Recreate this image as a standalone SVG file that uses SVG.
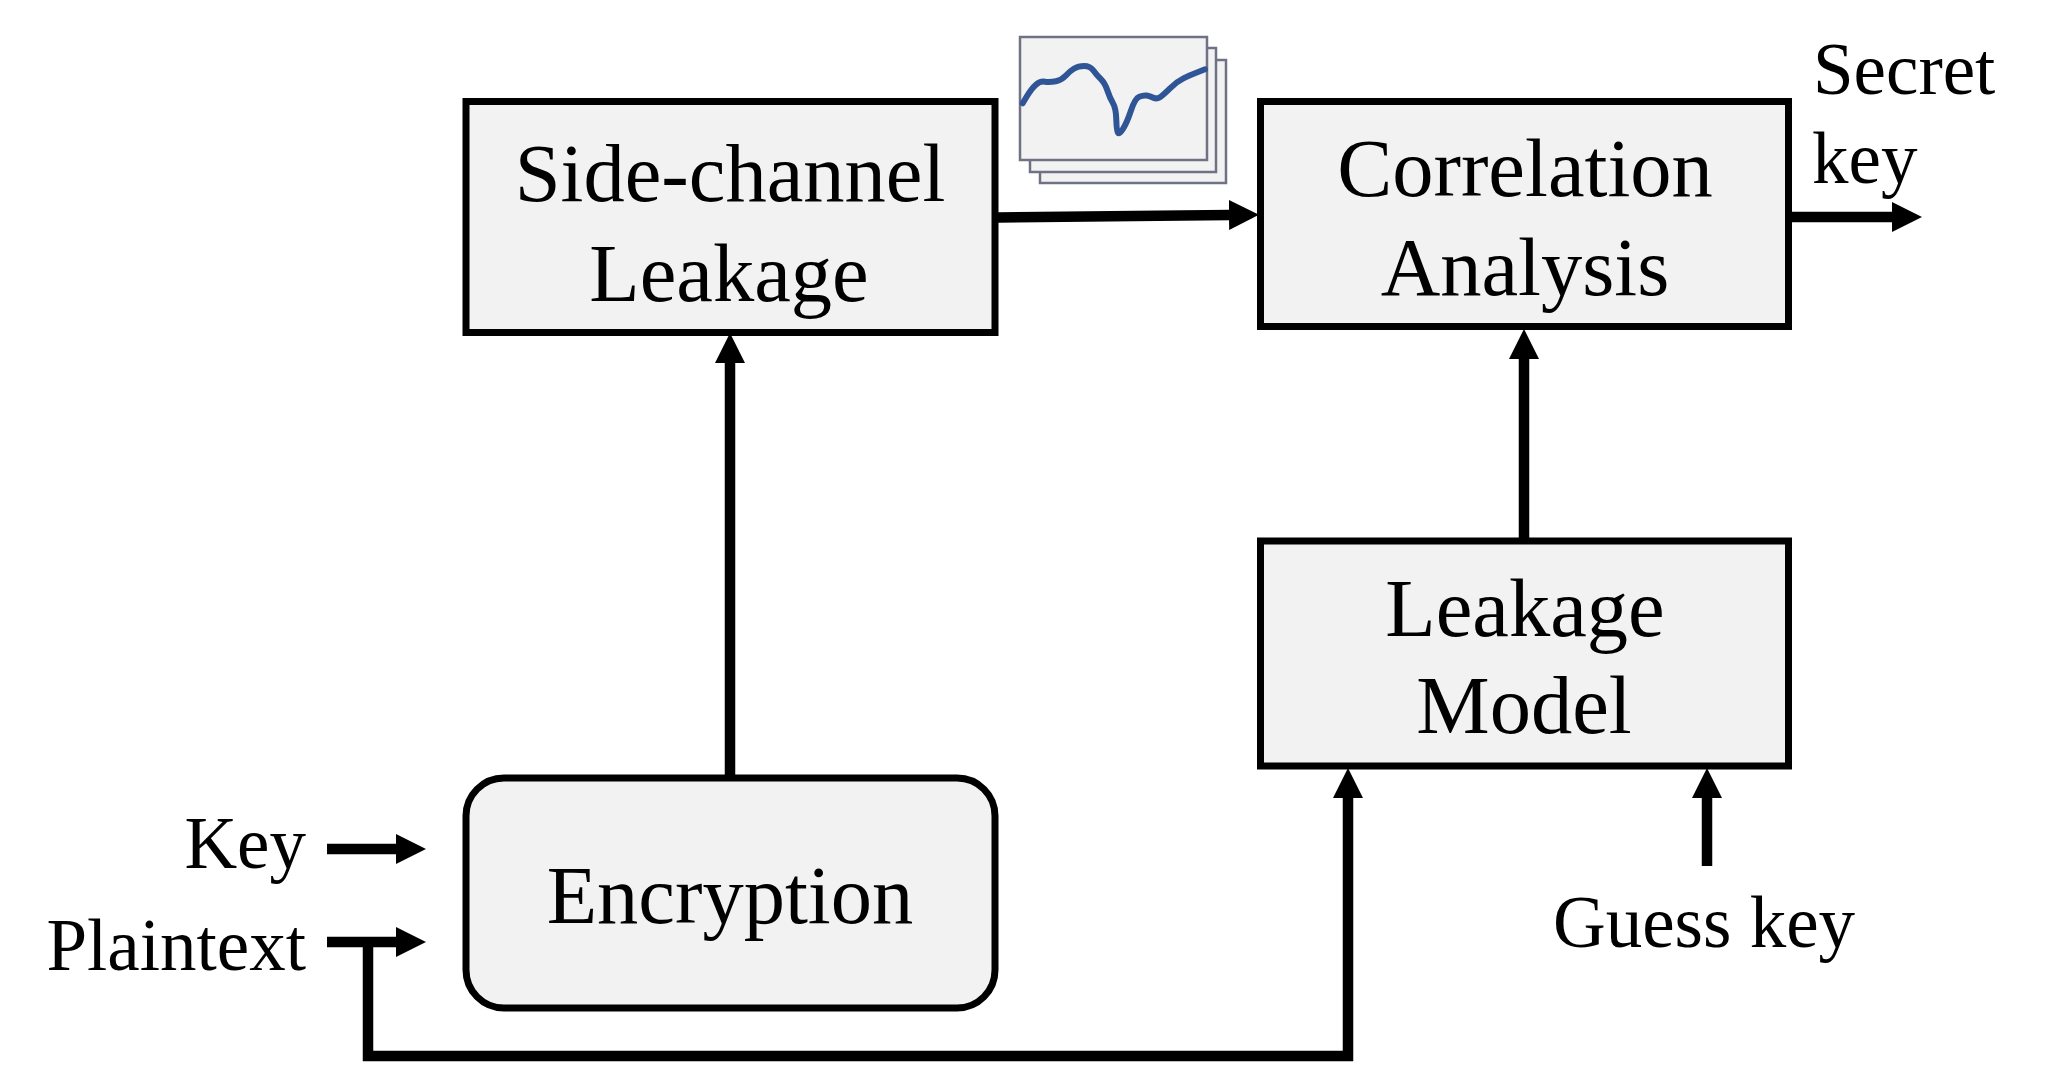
<svg xmlns="http://www.w3.org/2000/svg" width="2058" height="1066" viewBox="0 0 2058 1066">
<style>
.box{fill:#f2f2f2;stroke:#000;stroke-width:7}
.t{font-family:"Liberation Serif","Times New Roman",serif;font-size:82.5px;fill:#000;text-anchor:middle}
.s{font-family:"Liberation Serif","Times New Roman",serif;font-size:73px;fill:#000}
.c{fill:none;stroke:#000;stroke-width:10.5}
.pg{fill:#f2f2f2;stroke:#6f7285;stroke-width:2.5}
</style>
<defs>
<marker id="a" markerUnits="userSpaceOnUse" markerWidth="32" markerHeight="32" refX="1" refY="15" orient="auto" viewBox="0 0 32 30"><path d="M0 0L30 15L0 30Z" fill="#000"/></marker>
</defs>
<rect width="2058" height="1066" fill="#fff"/>
<g id="connectors">
<path class="c" d="M730 778V362" marker-end="url(#a)"/>
<path class="c" d="M998 217.500L1230 215" marker-end="url(#a)"/>
<path class="c" d="M1524 541V358" marker-end="url(#a)"/>
<path class="c" d="M1790 217H1893" marker-end="url(#a)"/>
<path class="c" d="M327 849H397" marker-end="url(#a)"/>
<path class="c" d="M327 942H397" marker-end="url(#a)"/>
<path class="c" d="M368 942V1056H1348V797" marker-end="url(#a)"/>
<path class="c" d="M1707 866V797" marker-end="url(#a)"/>
</g>
<g id="traces">
<rect class="pg" x="1040" y="60" width="186" height="123"/>
<rect class="pg" x="1030" y="48" width="186" height="124"/>
<rect class="pg" x="1020" y="37" width="187" height="123"/>
<path d="M1022.7 103.3L1027.2 95.8Q1031.7 88.3 1035.9 84.7Q1040 81 1045 81.7Q1050 82.3 1055.9 81.2Q1061.7 80 1065.9 75.500Q1070 71 1074.2 68.500Q1078.3 66 1084.2 66Q1090 66 1093.4 70.500Q1096.7 75 1100.9 79.2Q1105 83.3 1107.5 90.8Q1110 98.3 1113 103.3Q1116 108.3 1116.3 120Q1116.7 131.7 1118 133Q1119.3 134.3 1123 128.8Q1126.7 123.3 1130.9 110.8Q1135 98.3 1139.2 96.7Q1143.3 95 1146.7 95.500Q1150 96 1153.4 97.7Q1156.7 99.3 1160 97.2Q1163.3 95 1170 88.4Q1176.7 81.7 1183.4 78.4Q1190 75 1197.5 72.2L1205 69.3" fill="none" stroke="#2f5597" stroke-width="6" stroke-linecap="round"/>
</g>
<g id="side-channel"><rect class="box" x="466" y="101.500" width="529" height="231"/><text class="t" x="730" y="201">Side-channel</text><text class="t" x="729" y="301">Leakage</text></g>
<g id="correlation"><rect class="box" x="1260.500" y="101.500" width="528" height="225"/><text class="t" x="1525" y="196">Correlation</text><text class="t" x="1525" y="295">Analysis</text></g>
<g id="leakage-model"><rect class="box" x="1260.500" y="541" width="528" height="225"/><text class="t" x="1525" y="636">Leakage</text><text class="t" x="1524" y="733">Model</text></g>
<g id="encryption"><rect class="box" x="466" y="778" width="529" height="230" rx="38"/><text class="t" x="730" y="923">Encryption</text></g>
<g id="labels">
<text class="s" x="306" y="868" text-anchor="end">Key</text>
<text class="s" x="306" y="970" text-anchor="end">Plaintext</text>
<text class="s" x="1704" y="947" text-anchor="middle">Guess key</text>
<text class="s" x="1813" y="94">Secret</text>
<text class="s" x="1812" y="183">key</text>
</g>
</svg>
